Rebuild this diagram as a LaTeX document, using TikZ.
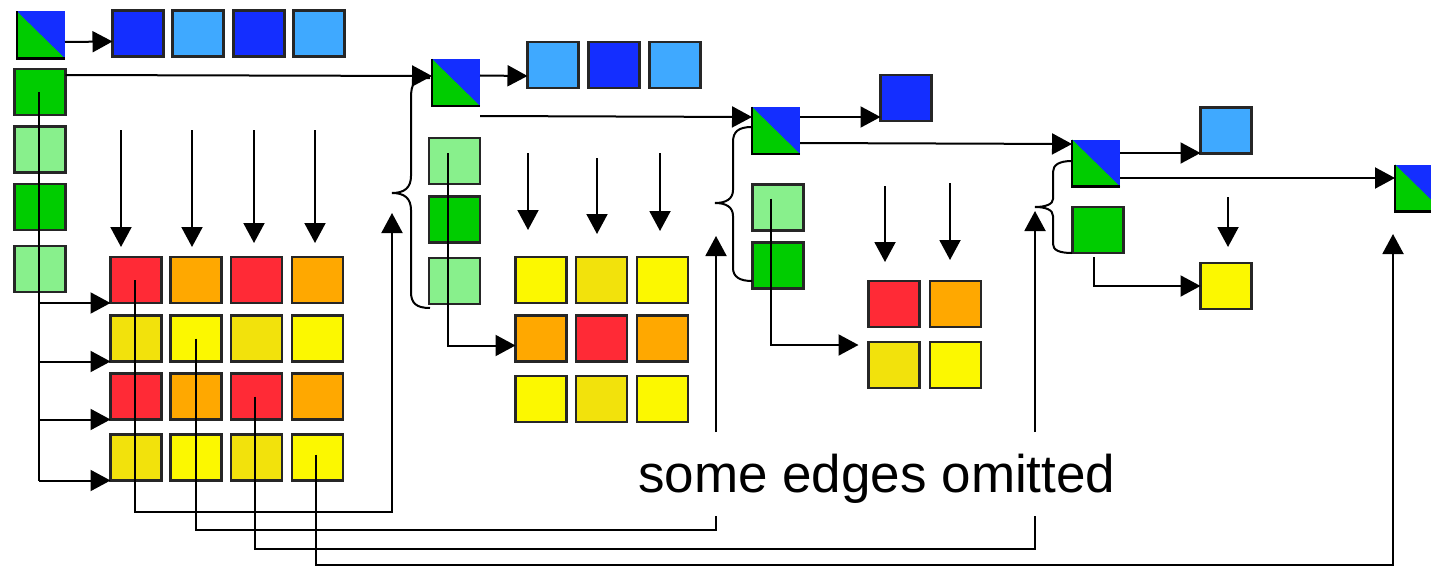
\documentclass[tikz,border=0pt]{standalone}
\usepackage{fontspec}
\setmainfont{Liberation Sans}
\usetikzlibrary{arrows.meta}
\definecolor{dblue}{HTML}{142EFF}
\definecolor{lblue}{HTML}{3FA9FF}
\definecolor{dgreen}{HTML}{00CC00}
\definecolor{lgreen}{HTML}{88F08C}
\definecolor{cred}{HTML}{FF2A36}
\definecolor{corange}{HTML}{FFA800}
\definecolor{cyellow}{HTML}{FCF800}
\definecolor{dyellow}{HTML}{F2E20C}
\begin{document}
\begin{tikzpicture}[x=1pt,y=-1pt,
  cell/.style={draw=black!85, line width=2.2pt, minimum width=51pt, minimum height=46pt, inner sep=0pt, outer sep=0pt},
  split/.style={fill=dblue, minimum width=48pt, minimum height=47pt, inner sep=0pt, outer sep=0pt},
  edge/.style={line width=2pt},
  arr/.style={edge, -{Triangle[length=20pt,width=21pt]}}]
\useasboundingbox (0,0) rectangle (1431,567);

% ---------- split (task) squares ----------
\node[split] (s1) at (41,35) {};
\node[split] (s2) at (456,82.5) {};
\node[split] (s3) at (776,130.5) {};
\node[split] (s4) at (1096,163) {};
\node[split] (s5) at (1419,188) {};
\foreach \s in {s1,s2,s3,s4,s5}{
  \fill[dgreen] (\s.north west) -- (\s.south west) -- (\s.south east) -- cycle;
  \draw[edge, line width=2.2pt] (\s.north west) -- (\s.south west) -- (\s.south east);
}

% ---------- blue rows ----------
\foreach \x/\c/\n in {138/dblue/1, 198/lblue/2, 259/dblue/3, 319/lblue/4}
  \node[cell, fill=\c] (a\n) at (\x,33.5) {};
\foreach \x/\c/\n in {553/lblue/1, 614/dblue/2, 675/lblue/3}
  \node[cell, fill=\c] (b\n) at (\x,65) {};
\node[cell, fill=dblue] (c1) at (906,98) {};
\node[cell, fill=lblue] (e1) at (1226,130.5) {};

% ---------- green columns ----------
\foreach \y/\c/\n in {92/dgreen/1, 149.5/lgreen/2, 207/dgreen/3, 269/lgreen/4}
  \node[cell, fill=\c] (p\n) at (40,\y) {};
\foreach \y/\c/\n in {161/lgreen/1, 219.5/dgreen/2, 281/lgreen/3}
  \node[cell, fill=\c] (q\n) at (454.5,\y) {};
\foreach \y/\c/\n in {207.5/lgreen/1, 265.5/dgreen/2}
  \node[cell, fill=\c] (w\n) at (778,\y) {};
\node[cell, fill=dgreen] (z1) at (1098,230) {};

% ---------- 4x4 grid ----------
\foreach \r/\y in {1/280, 3/396.5}
  \foreach \c/\x/\col in {1/136/cred, 2/196/corange, 3/256.5/cred, 4/317.5/corange}
    \node[cell, fill=\col] (m\r\c) at (\x,\y) {};
\foreach \r/\y in {2/338.5, 4/457.5}
  \foreach \c/\x/\col in {1/136/dyellow, 2/196/cyellow, 3/256.5/dyellow, 4/317.5/cyellow}
    \node[cell, fill=\col] (m\r\c) at (\x,\y) {};

% ---------- 3x3 grid ----------
\foreach \r/\y in {1/280, 3/399}
  \foreach \c/\x/\col in {1/541/cyellow, 2/601.5/dyellow, 3/662.5/cyellow}
    \node[cell, fill=\col] (n\r\c) at (\x,\y) {};
\foreach \c/\x/\col in {1/541/corange, 2/601.5/cred, 3/662.5/corange}
  \node[cell, fill=\col] (n2\c) at (\x,338.5) {};

% ---------- 2x2 grid ----------
\node[cell, fill=cred]    (k11) at (894,304) {};
\node[cell, fill=corange] (k12) at (955.5,304) {};
\node[cell, fill=dyellow] (k21) at (894,365) {};
\node[cell, fill=cyellow] (k22) at (955.5,365) {};

% ---------- 1x1 ----------
\node[cell, fill=cyellow] (y1) at (1226,286) {};

% ---------- arrows from split squares ----------
\draw[arr] ([yshift=-7pt]s1.east) -- ([yshift=-8pt]a1.west);
\draw[arr] ([yshift=7pt]s2.east) -- ([yshift=-11pt]b1.west);
\draw[arr] ([yshift=-10pt]s2.south east) -- ([yshift=13.5pt]s3.west);
\draw[arr] ([yshift=13.5pt]s3.east) -- ([yshift=-19pt]c1.west);
\draw[arr] ([yshift=-12.5pt]s3.east) -- ([yshift=19pt]s4.west);
\draw[arr] ([yshift=10pt]s4.east) -- ([yshift=-22.5pt]e1.west);
\draw[arr] ([yshift=-15pt]s4.east) -- ([yshift=10pt]s5.west);
\draw[arr] ([yshift=17pt]p1.east) -- ([yshift=6.5pt]s2.west);

% ---------- row feeds from the green columns ----------
\draw[edge] ([xshift=-1.5pt]p1.center) -- ([xshift=-1.5pt]p1.center |- m41.south west);
\foreach \r in {1,...,4}
  \draw[arr] ([xshift=-1.5pt]p1.center |- m\r1.south west) -- (m\r1.south west);
\draw[arr] ([xshift=-6.5pt,yshift=8pt]q1.center) |- ([yshift=-7pt]n21.west);
\draw[arr] ([xshift=-7pt,yshift=9pt]w1.center) |- ([xshift=-10pt,yshift=20pt]k21.west);
\draw[arr] ([xshift=-4pt,yshift=-4pt]z1.south) |- (y1.west);

% ---------- column feeds (partly omitted) ----------
\foreach \x/\ya/\yb [count=\i] in {121/130/247, 192/130/247, 254/130/243, 315/130/243,
    528/153/230, 597/158/234, 660/153/231, 885/186/262, 950/183/260, 1228/197/247}{
  \coordinate (da\i) at (\x,\ya);
  \coordinate (db\i) at (\x,\yb);
  \draw[arr] (da\i) -- (db\i);
}

% ---------- results fed forward to later steps ----------
\coordinate (r1) at (392,512);  \coordinate (t1) at (392,213);
\draw[arr] ([xshift=-1.5pt]m11.center) |- (r1) -- (t1);
\coordinate (r2) at (716,530);  \coordinate (r2g) at (716,516);
\coordinate (r2h) at (716,432); \coordinate (t2) at (716,236);
\draw[edge] (m22.center) |- (r2) -- (r2g);
\draw[arr] (r2h) -- (t2);
\coordinate (r3) at (1035,549);  \coordinate (r3g) at (1035,516);
\coordinate (r3h) at (1035,432); \coordinate (t3) at (1035,211);
\draw[edge] ([xshift=-2pt]m33.center) |- (r3) -- (r3g);
\draw[arr] (r3h) -- (t3);
\coordinate (r4) at (1393,565); \coordinate (t4) at (1393,234);
\draw[arr] ([xshift=-2pt,yshift=3pt]m44.center) |- (r4) -- (t4);

% ---------- braces grouping each step ----------
\draw[edge] (430,78) .. controls (414,78) and (411,84) .. (411,98) -- (411,176)
  .. controls (411,188) and (404,193) .. (392,193)
  .. controls (404,193) and (411,198) .. (411,210) -- (411,292)
  .. controls (411,303) and (416,308) .. (430,308);
\draw[edge] (752,127) .. controls (738,127) and (733,132) .. (733,142) -- (733,190)
  .. controls (733,199) and (726,203) .. (715,203)
  .. controls (726,203) and (733,207) .. (733,216) -- (733,268)
  .. controls (733,277) and (740,281) .. (752,281);
\draw[edge] (1072,161) .. controls (1059,161) and (1053,165) .. (1053,172) -- (1053,199)
  .. controls (1053,204) and (1046,207) .. (1035,207)
  .. controls (1046,207) and (1053,210) .. (1053,216) -- (1053,244)
  .. controls (1053,250) and (1059,253) .. (1072,253);

% ---------- note ----------
\node[font=\fontsize{53}{60}\selectfont, anchor=base west, inner sep=0pt] (note) at (638,492) {some edges omitted};
\end{tikzpicture}
\end{document}
